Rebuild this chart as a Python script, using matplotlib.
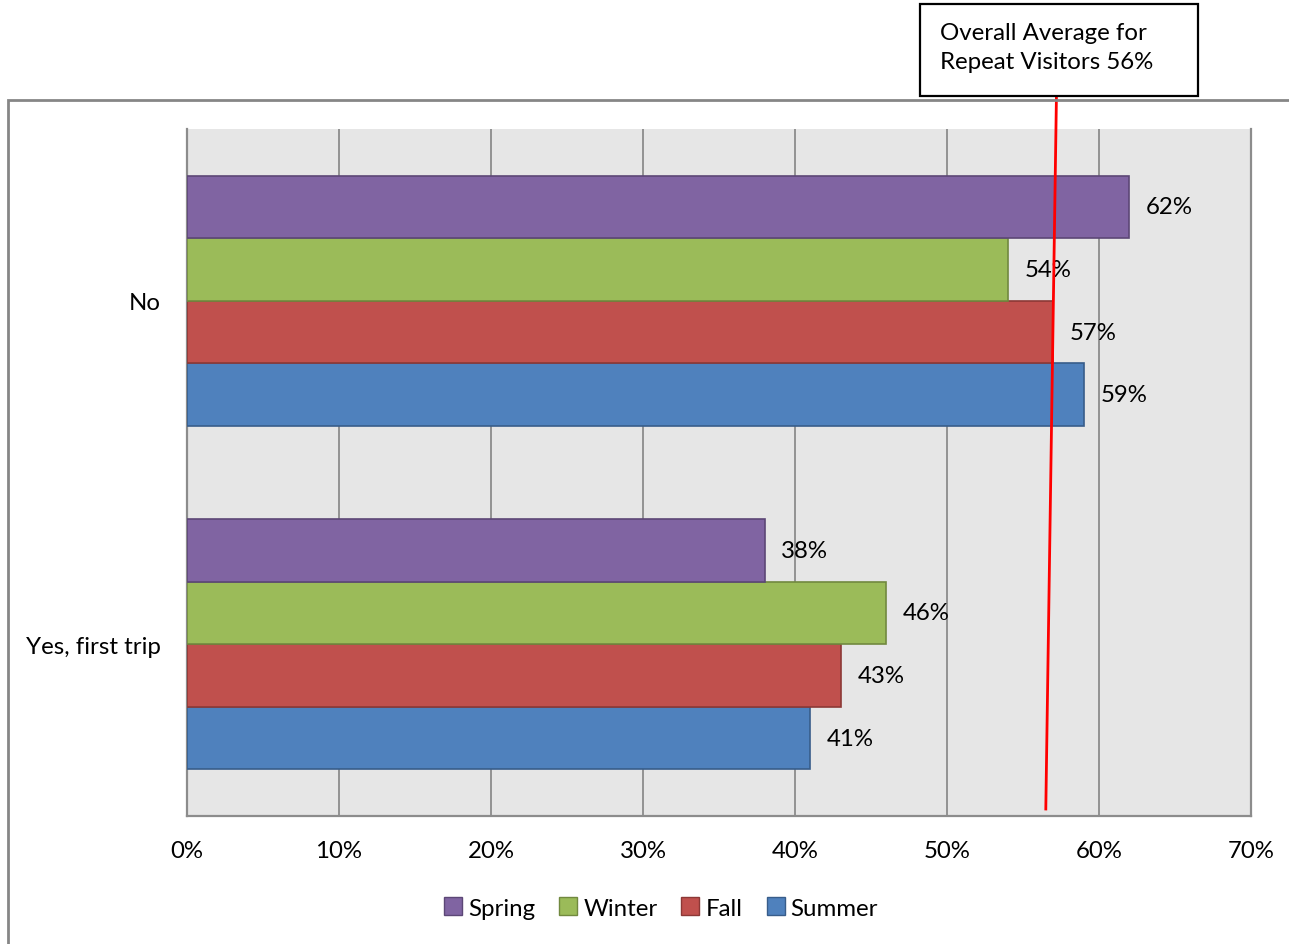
import matplotlib
matplotlib.use("Agg")
import matplotlib.pyplot as plt
from matplotlib.patches import Rectangle, Patch
from matplotlib.lines import Line2D
import numpy as np

categories = ["Yes, first trip", "No"]
seasons = ["Summer", "Fall", "Winter", "Spring"]  # bottom to top within group
values = {
    "Spring": [38, 62],
    "Winter": [46, 54],
    "Fall":   [43, 57],
    "Summer": [41, 59],
}
x_ticks = [0, 10, 20, 30, 40, 50, 60, 70]
avg_label = "Overall Average for\nRepeat Visitors 56%"
avg_line_top, avg_line_bottom = 57.2, 56.5

face = {"Spring": "#8064A2", "Winter": "#9BBB59", "Fall": "#C0504D", "Summer": "#4F81BD"}
edge = {"Spring": "#5C4776", "Winter": "#71893F", "Fall": "#8C3836", "Summer": "#385D8A"}

plt.rcParams['font.family'] = ['Lato', 'DejaVu Sans']
FS = 17.3

W, H = 1289, 945
fig = plt.figure(figsize=(W/100, H/100), dpi=100)
ax = fig.add_axes([187/W, 1-817/H, (1251-187)/W, (817-130)/H])
ax.set_facecolor("#E6E6E6")

bh = 0.182
y = np.arange(len(categories))
for i, s in enumerate(seasons):
    off = (i - 1.5) * bh
    ax.barh(y + off, values[s], height=bh, color=face[s], edgecolor=edge[s],
            linewidth=1.2, zorder=3)
    for yy, v in zip(y + off, values[s]):
        ax.text(v + 1.1, yy, f"{v}%", va="center", ha="left", fontsize=FS, zorder=5)

ax.set_xlim(0, 70)
ax.set_ylim(-0.5, 1.5)
ax.set_xticks(x_ticks)
ax.set_xticklabels([f"{t}%" for t in x_ticks], fontsize=FS)
ax.set_yticks(y)
ax.set_yticklabels(categories, fontsize=FS)
ax.tick_params(axis="x", length=0, pad=17)
ax.tick_params(axis="y", length=0, pad=19)
ax.grid(axis="x", color="#8C8C8C", linewidth=1.3, zorder=1)
for sp in ["top"]:
    ax.spines[sp].set_visible(False)
for sp in ["left", "bottom", "right"]:
    ax.spines[sp].set_color("#8C8C8C")
    ax.spines[sp].set_linewidth(1.6)

# red average line
y_bot = ax.transData.inverted().transform(fig.transFigure.transform((0, 1-810/H)))[1]
y_top = ax.transData.inverted().transform(fig.transFigure.transform((0, 1-97/H)))[1]
ax.add_line(Line2D([avg_line_bottom, avg_line_top], [y_bot, y_top], color="#FF0000",
                   linewidth=2, clip_on=False, zorder=6))

# outer chart border
fig.patches.append(Rectangle((8/W, -0.05), 1.1, 1-101/H+0.05, transform=fig.transFigure,
                             fill=False, edgecolor="#868686", linewidth=2, zorder=0))

# annotation box
fig.patches.append(Rectangle((920/W, 1-97/H), (1198-920)/W, (97-5)/H, transform=fig.transFigure,
                             facecolor="white", edgecolor="black", linewidth=1.6, zorder=7))
fig.text(940/W, 1-48/H, avg_label, ha="left", va="center", fontsize=FS,
         linespacing=1.5, zorder=8)

handles = [Patch(facecolor=face[s], edgecolor=edge[s], label=s) for s in ["Spring", "Winter", "Fall", "Summer"]]
fig.legend(handles=handles, loc="center", bbox_to_anchor=(661/W, 1-909/H), ncol=4,
           frameon=False, fontsize=FS, handlelength=0.75, handleheight=0.75,
           handletextpad=0.25, columnspacing=1.0)

fig.savefig("out.png", dpi=100)
